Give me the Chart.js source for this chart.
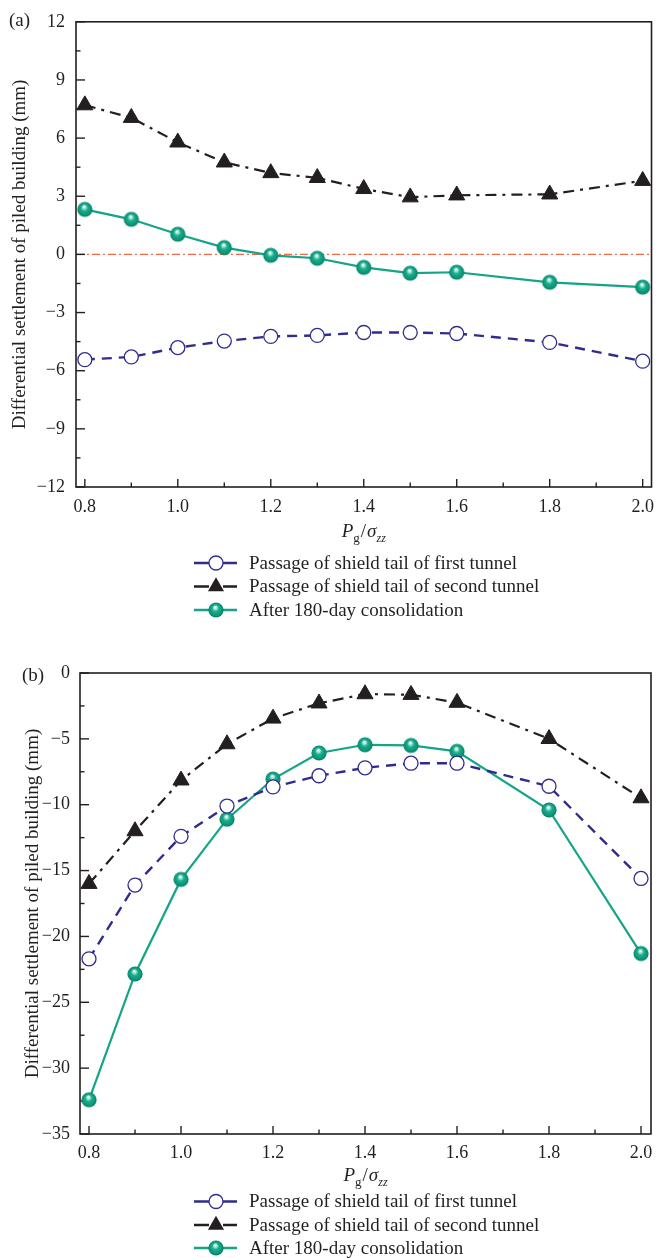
<!DOCTYPE html>
<html><head><meta charset="utf-8">
<script src="https://cdn.jsdelivr.net/npm/chart.js@4"></script>
<style>
body{margin:0;background:#fff;width:663px;height:1258px;overflow:hidden;position:relative}
#ca{position:absolute;left:0;top:0}
#cb{position:absolute;left:0;top:625px}
</style>
</head><body>
<canvas id="ca" width="663" height="625"></canvas>
<canvas id="cb" width="663" height="633"></canvas>
<script>
// ---------- data ----------
const xValues = [0.8, 0.9, 1.0, 1.1, 1.2, 1.3, 1.4, 1.5, 1.6, 1.8, 2.0];
const seriesNames = ['Passage of shield tail of first tunnel', 'Passage of shield tail of second tunnel', 'After 180-day consolidation'];
// panel (a)
const aFirst  = [-5.43, -5.29, -4.81, -4.47, -4.23, -4.18, -4.03, -4.03, -4.08, -4.54, -5.51];
const aSecond = [7.7, 7.05, 5.78, 4.75, 4.2, 3.95, 3.38, 2.95, 3.05, 3.1, 3.8];
const aAfter  = [2.32, 1.81, 1.04, 0.35, -0.05, -0.2, -0.67, -0.97, -0.92, -1.44, -1.69];
// panel (b)
const bFirst  = [-21.7, -16.1, -12.4, -10.1, -8.65, -7.8, -7.2, -6.85, -6.85, -8.6, -15.6];
const bSecond = [-16.0, -12.0, -8.15, -5.4, -3.45, -2.3, -1.6, -1.65, -2.25, -5.0, -9.5];
const bAfter  = [-32.4, -22.85, -15.67, -11.1, -8.05, -6.07, -5.45, -5.5, -5.95, -10.4, -21.3];
// ticks
const xTicks = [0.8, 1.0, 1.2, 1.4, 1.6, 1.8, 2.0];
const xMinorTicks = [0.9, 1.1, 1.3, 1.5, 1.7, 1.9];
const aYTicks = [-12, -9, -6, -3, 0, 3, 6, 9, 12];
const aYMinorTicks = [-10.5, -7.5, -4.5, -1.5, 1.5, 4.5, 7.5, 10.5];
const bYTicks = [-35, -30, -25, -20, -15, -10, -5, 0];
const bYMinorTicks = [-32.5, -27.5, -22.5, -17.5, -12.5, -7.5, -2.5];

// ---------- styles ----------
const FONT = "'Liberation Serif', 'Times New Roman', serif";
const INK = '#231f20';
const BLUE = '#2f2c8e';
const GREEN = '#14a487';
const ZERO = '#ef6a4b';

function sphere(r) {
  const s = Math.ceil(2 * r + 2);
  const c = document.createElement('canvas');
  c.width = c.height = s;
  const g = c.getContext('2d');
  const cx = s / 2, cy = s / 2;
  const grad = g.createRadialGradient(cx - r * 0.1, cy - r * 0.38, r * 0.04, cx, cy, r);
  grad.addColorStop(0, '#ffffff');
  grad.addColorStop(0.18, '#a6e6d4');
  grad.addColorStop(0.42, '#1aae8f');
  grad.addColorStop(0.85, '#0a9275');
  grad.addColorStop(1, '#05785f');
  g.fillStyle = grad;
  g.beginPath(); g.arc(cx, cy, r, 0, Math.PI * 2); g.fill();
  return c;
}
const sphereImg = sphere(7.6);

function pts(ys) { return xValues.map((x, i) => ({x: x, y: ys[i]})); }

function makeDatasets(first, second, after) {
  return [
    {label: seriesNames[0], data: pts(first), borderColor: BLUE, borderWidth: 2.4, borderDash: [10, 7],
     pointStyle: 'circle', pointRadius: 7, pointBackgroundColor: '#ffffff', pointBorderColor: BLUE, pointBorderWidth: 1.3,
     mk: 'circle'},
    {label: seriesNames[1], data: pts(second), borderColor: INK, borderWidth: 2.2, borderDash: [11, 6, 3, 6],
     pointStyle: 'triangle', pointRadius: 9.3, pointBackgroundColor: INK, pointBorderColor: INK, pointBorderWidth: 1,
     mk: 'triangle'},
    {label: seriesNames[2], data: pts(after), borderColor: GREEN, borderWidth: 2.2,
     pointStyle: sphereImg, pointRadius: 7.6, mk: 'sphere'}
  ];
}

function fmt(v, dec) {
  const s = Math.abs(v).toFixed(dec);
  return v < 0 ? '\u2212' + s : s;
}

// ---------- plugins ----------
const framePlugin = {
  id: 'frame',
  beforeDatasetsDraw(chart, args, o) {
    const {ctx, chartArea: a, scales: {x, y}} = chart;
    ctx.save();
    if (o.zeroLine) {
      const py = y.getPixelForValue(0);
      ctx.strokeStyle = ZERO; ctx.lineWidth = 1.2; ctx.setLineDash([8, 3, 2, 3]);
      ctx.beginPath(); ctx.moveTo(a.left, py); ctx.lineTo(a.right, py); ctx.stroke();
      ctx.setLineDash([]);
    }
    ctx.strokeStyle = INK; ctx.lineWidth = 1.6;
    ctx.strokeRect(a.left, a.top, a.right - a.left, a.bottom - a.top);
    ctx.lineWidth = 1.4;
    const seg = (x0, y0, x1, y1) => { ctx.beginPath(); ctx.moveTo(x0, y0); ctx.lineTo(x1, y1); ctx.stroke(); };
    o.xMajor.forEach(v => { const p = x.getPixelForValue(v); seg(p, a.bottom, p, a.bottom - 8); });
    o.xMinor.forEach(v => { const p = x.getPixelForValue(v); seg(p, a.bottom, p, a.bottom - 4.5); });
    o.yMajor.forEach(v => { const p = y.getPixelForValue(v); seg(a.left, p, a.left + 9, p); });
    o.yMinor.forEach(v => { const p = y.getPixelForValue(v); seg(a.left, p, a.left + 4.5, p); });
    ctx.restore();
  },
  afterDraw(chart, args, o) {
    const {ctx, chartArea: a} = chart;
    ctx.save();
    ctx.fillStyle = INK;
    // panel label
    ctx.font = `19px ${FONT}`;
    ctx.textBaseline = 'middle'; ctx.textAlign = 'left';
    ctx.fillText(o.panel, o.panelX, o.panelY);
    // x title  P_g / sigma_zz
    const parts = [
      {t: 'P', f: `italic 19px ${FONT}`, dy: 0, gap: 0},
      {t: 'g', f: `13px ${FONT}`, dy: 5, gap: 0},
      {t: '/', f: `19px ${FONT}`, dy: 0, gap: 1},
      {t: '\u03c3', f: `italic 19px ${FONT}`, dy: 0, gap: 1},
      {t: 'zz', f: `italic 12px ${FONT}`, dy: 5, gap: 0}
    ];
    ctx.textBaseline = 'alphabetic';
    let total = 0;
    parts.forEach(p => { ctx.font = p.f; p.w = ctx.measureText(p.t).width; total += p.w + p.gap; });
    let cx = (a.left + a.right) / 2 - total / 2;
    const base = o.titleY + 6.5;
    parts.forEach(p => { ctx.font = p.f; cx += p.gap; ctx.fillText(p.t, cx, base + p.dy); cx += p.w; });
    // legend
    ctx.font = `19px ${FONT}`;
    ctx.textBaseline = 'middle';
    chart.data.datasets.forEach((ds, i) => {
      const ry = o.legendRows[i];
      ctx.strokeStyle = ds.borderColor; ctx.lineWidth = 2.4; ctx.setLineDash([]);
      ctx.beginPath(); ctx.moveTo(194, ry); ctx.lineTo(209, ry); ctx.moveTo(223, ry); ctx.lineTo(237, ry); ctx.stroke();
      const mx = 216;
      if (ds.mk === 'circle') {
        ctx.fillStyle = '#fff'; ctx.strokeStyle = ds.borderColor; ctx.lineWidth = 1.3;
        ctx.beginPath(); ctx.arc(mx, ry, 7, 0, Math.PI * 2); ctx.fill(); ctx.stroke();
      } else if (ds.mk === 'triangle') {
        const r = 9.3;
        ctx.fillStyle = INK;
        ctx.beginPath();
        for (let k = 0; k < 3; k++) {
          const ang = k * 2 * Math.PI / 3;
          const px = mx + Math.sin(ang) * r, py = ry - Math.cos(ang) * r;
          if (k === 0) ctx.moveTo(px, py); else ctx.lineTo(px, py);
        }
        ctx.closePath(); ctx.fill();
      } else {
        ctx.drawImage(sphereImg, mx - sphereImg.width / 2, ry - sphereImg.height / 2);
      }
      ctx.fillStyle = INK;
      ctx.fillText(ds.label, 249, ry + 1);
    });
    ctx.restore();
  }
};

function makeChart(id, cfg) {
  return new Chart(document.getElementById(id), {
    type: 'line',
    data: {datasets: makeDatasets(cfg.first, cfg.second, cfg.after)},
    plugins: [framePlugin],
    options: {
      responsive: false, animation: false, events: [],
      datasets: {line: {clip: false, tension: 0, fill: false}},
      layout: {autoPadding: false, padding: cfg.padding},
      plugins: {
        legend: {display: false}, tooltip: {enabled: false},
        frame: cfg.frame
      },
      scales: {
        x: {
          type: 'linear', min: cfg.xMin, max: cfg.xMax,
          grid: {display: false, drawTicks: false, tickLength: 0}, border: {display: false},
          afterBuildTicks: s => { s.ticks = xTicks.map(v => ({value: v})); },
          afterFit: s => { s.height = 30; },
          ticks: {padding: cfg.xPad, color: INK, font: {family: FONT, size: 18}, maxRotation: 0, autoSkip: false,
                  callback: v => fmt(v, 1)}
        },
        y: {
          type: 'linear', min: cfg.yMin, max: cfg.yMax,
          grid: {display: false, drawTicks: false, tickLength: 0}, border: {display: false},
          afterBuildTicks: s => { s.ticks = cfg.yTicks.map(v => ({value: v})); },
          afterFit: s => { s.width = cfg.yWidth; },
          ticks: {padding: cfg.yPad, color: INK, font: {family: FONT, size: 18}, autoSkip: false,
                  callback: v => fmt(v, 0)},
          title: {display: true, text: 'Differential settlement of piled building (mm)', color: INK,
                  font: {family: FONT, size: 19}, padding: {top: cfg.yTitlePad, bottom: 0}}
        }
      }
    }
  });
}

makeChart('ca', {
  first: aFirst, second: aSecond, after: aAfter,
  padding: {left: 0, top: 19, right: 5, bottom: 108},
  xMin: 0.781, xMax: 2.019, yMin: -12, yMax: 12, yTicks: aYTicks,
  yWidth: 76, yPad: 11, xPad: 9, yTitlePad: 8.6,
  frame: {zeroLine: true, xMajor: xTicks, xMinor: xMinorTicks, yMajor: aYTicks, yMinor: aYMinorTicks,
          panel: '(a)', panelX: 9, panelY: 21, titleY: 530, legendRows: [563, 586.5, 610]}
});

makeChart('cb', {
  first: bFirst, second: bSecond, after: bAfter,
  padding: {left: 0, top: 48, right: 12, bottom: 94},
  xMin: 0.7804, xMax: 2.0217, yMin: -35, yMax: 0, yTicks: bYTicks,
  yWidth: 80, yPad: 10, xPad: 8, yTitlePad: 21.3,
  frame: {zeroLine: false, xMajor: xTicks, xMinor: xMinorTicks, yMajor: bYTicks, yMinor: bYMinorTicks,
          panel: '(b)', panelX: 22, panelY: 51, titleY: 549, legendRows: [576.5, 600, 623]}
});
</script>
</body></html>
